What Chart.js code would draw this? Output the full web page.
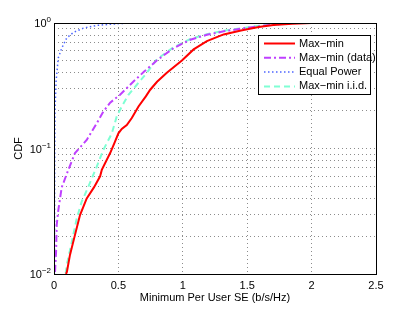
<!DOCTYPE html>
<html>
<head>
<meta charset="utf-8">
<script src="https://cdn.jsdelivr.net/npm/chart.js@4/dist/chart.umd.min.js"></script>
<style>
  body { margin: 0; background: #fff; }
  canvas { display: block; }
</style>
</head>
<body>
<canvas id="cdfChart" width="415" height="309"></canvas>
<script>
// Ticks
const xTicks = [0, 0.5, 1, 1.5, 2, 2.5];
const yTicks = [0.01, 0.02, 0.03, 0.04, 0.05, 0.06, 0.07, 0.08, 0.09,
                0.1, 0.2, 0.3, 0.4, 0.5, 0.6, 0.7, 0.8, 0.9, 1];
const yDecades = [1, 0.1, 0.01];
const yDecadeExp = ['0', '\u22121', '\u22122'];

// Max-min (rojo)
const maxMinX = [0.093, 0.10, 0.124, 0.163, 0.202, 0.254, 0.31, 0.358, 0.371, 0.436, 0.468, 0.50, 0.526,
                 0.565, 0.604, 0.656, 0.713, 0.747, 0.80, 0.876, 0.993, 1.084, 1.187, 1.317, 1.452,
                 1.589, 1.703, 1.85, 2.0, 2.08];
const maxMinY = [0.0100, 0.0104, 0.0142, 0.0205, 0.0295, 0.040, 0.049, 0.060, 0.0675, 0.092, 0.11, 0.132, 0.143,
                 0.154, 0.175, 0.216, 0.26, 0.294, 0.34, 0.401, 0.503, 0.616, 0.718, 0.811, 0.873,
                 0.929, 0.964, 0.988, 0.998, 1.0];

// Max-min (data) (morado)
const dataX = [0.008, 0.016, 0.021, 0.033, 0.047, 0.06, 0.111, 0.163, 0.254, 0.332, 0.383, 0.436,
               0.513, 0.617, 0.70, 0.80, 0.928, 1.058, 1.187, 1.317, 1.498, 1.6, 1.7, 1.85];
const dataY = [0.0104, 0.015, 0.0246, 0.032, 0.040, 0.049, 0.0675, 0.092, 0.117, 0.159, 0.197, 0.232,
               0.268, 0.342, 0.41, 0.505, 0.63, 0.735, 0.805, 0.858, 0.915, 0.944, 0.97, 0.998];

// Equal Power (azul)
const eqX = [0.003, 0.004, 0.005, 0.006, 0.008, 0.016, 0.033, 0.06, 0.099, 0.15, 0.228, 0.332, 0.49, 0.6];
const eqY = [0.01, 0.02, 0.05, 0.1, 0.2, 0.342, 0.526, 0.63, 0.76, 0.84, 0.91, 0.957, 0.987, 1.0];

// Max-min i.i.d. (cian)
const iidX = [0.091, 0.099, 0.138, 0.177, 0.215, 0.267, 0.332, 0.383, 0.449, 0.487, 0.526, 0.578,
              0.643, 0.72, 0.799, 0.928, 1.058, 1.187, 1.317, 1.498, 1.6, 1.7, 1.85];
const iidY = [0.0101, 0.0118, 0.018, 0.0278, 0.0377, 0.0497, 0.0717, 0.0975, 0.132, 0.18, 0.216, 0.268,
              0.322, 0.40, 0.515, 0.64, 0.745, 0.815, 0.868, 0.922, 0.95, 0.975, 1.0];

const FONT = '"Liberation Sans", Arial, Helvetica, sans-serif';

function toPoints(xs, ys) {
    return xs.map((x, i) => ({ x: x, y: ys[i] }));
}

// Etiquetas del eje Y, caja y leyenda estilo MATLAB
const matlabPlugin = {
    id: 'matlabPlugin',
    afterDraw(chart) {
        const ctx = chart.ctx;
        const area = chart.chartArea;
        const yScale = chart.scales.y;

        ctx.save();
        // caja
        ctx.strokeStyle = '#000';
        ctx.lineWidth = 1;
        ctx.setLineDash([]);
        ctx.strokeRect(area.left + 0.5, area.top + 0.5, area.right - area.left, area.bottom - area.top);

        // etiquetas 10^n
        ctx.fillStyle = '#000';
        yDecades.forEach((v, i) => {
            const y = yScale.getPixelForValue(v);
            ctx.font = '8px ' + FONT;
            ctx.textAlign = 'right';
            ctx.textBaseline = 'alphabetic';
            const expW = ctx.measureText(yDecadeExp[i]).width;
            const xr = area.left - 3;
            ctx.fillText(yDecadeExp[i], xr, y - 1);
            ctx.font = '11px ' + FONT;
            ctx.fillText('10', xr - expW, y + 4);
        });

        // titulo del eje Y
        ctx.save();
        ctx.translate(19, (area.top + area.bottom) / 2);
        ctx.rotate(-Math.PI / 2);
        ctx.font = '11px ' + FONT;
        ctx.textAlign = 'center';
        ctx.textBaseline = 'middle';
        ctx.fillText('CDF', 0, 0);
        ctx.restore();

        // leyenda
        const lx = 258, ly = 35, lw = 112, lh = 59;
        ctx.fillStyle = '#fff';
        ctx.fillRect(lx, ly, lw, lh);
        ctx.strokeStyle = '#000';
        ctx.lineWidth = 1;
        ctx.strokeRect(lx + 0.5, ly + 0.5, lw, lh);
        chart.data.datasets.forEach((ds, i) => {
            const yy = ly + 8.5 + i * 14.3;
            ctx.strokeStyle = ds.borderColor;
            ctx.lineWidth = ds.borderWidth;
            ctx.setLineDash(ds.borderDash || []);
            ctx.beginPath();
            ctx.moveTo(lx + 6, yy);
            ctx.lineTo(lx + 37, yy);
            ctx.stroke();
            ctx.setLineDash([]);
            ctx.fillStyle = '#000';
            ctx.font = '11px ' + FONT;
            ctx.textAlign = 'left';
            ctx.textBaseline = 'middle';
            ctx.fillText(ds.label, lx + 41, yy);
        });
        ctx.restore();
    }
};

const ctx = document.getElementById('cdfChart').getContext('2d');
new Chart(ctx, {
    type: 'line',
    data: {
        datasets: [
            {
                label: 'Max\u2212min',
                data: toPoints(maxMinX, maxMinY),
                borderColor: '#ff0000',
                borderWidth: 2,
                pointRadius: 0,
                tension: 0
            },
            {
                label: 'Max\u2212min (data)',
                data: toPoints(dataX, dataY),
                borderColor: '#bf40ff',
                borderWidth: 2,
                borderDash: [7, 3, 2, 3],
                pointRadius: 0,
                tension: 0
            },
            {
                label: 'Equal Power',
                data: toPoints(eqX, eqY),
                borderColor: '#4d66ff',
                borderWidth: 1.5,
                borderDash: [1.5, 2.5],
                pointRadius: 0,
                tension: 0
            },
            {
                label: 'Max\u2212min i.i.d.',
                data: toPoints(iidX, iidY),
                borderColor: '#7fffd4',
                borderWidth: 2,
                borderDash: [6, 4],
                pointRadius: 0,
                tension: 0
            }
        ]
    },
    options: {
        responsive: false,
        animation: false,
        layout: { padding: { top: 23, right: 39, left: 0, bottom: 0 } },
        plugins: {
            legend: { display: false },
            tooltip: { enabled: false }
        },
        scales: {
            x: {
                type: 'linear',
                min: 0,
                max: 2.5,
                afterBuildTicks: scale => { scale.ticks = xTicks.map(v => ({ value: v })); },
                afterFit: scale => { scale.height = 35; },
                ticks: {
                    padding: 5,
                    color: '#000',
                    font: { family: FONT, size: 11 },
                    callback: v => String(v)
                },
                grid: { color: '#8c8c8c', lineWidth: 1, drawTicks: false },
                border: { display: false, dash: [1, 3] },
                title: {
                    display: true,
                    text: 'Minimum Per User SE (b/s/Hz)',
                    color: '#000',
                    font: { family: FONT, size: 11 },
                    padding: { top: 0, bottom: 4 }
                }
            },
            y: {
                type: 'logarithmic',
                min: 0.01,
                max: 1,
                afterBuildTicks: scale => { scale.ticks = yTicks.map(v => ({ value: v })); },
                afterFit: scale => { scale.width = 54; },
                ticks: { display: false },
                grid: { color: '#8c8c8c', lineWidth: 1, drawTicks: false },
                border: { display: false, dash: [1, 3] }
            }
        }
    },
    plugins: [matlabPlugin]
});
</script>
</body>
</html>
